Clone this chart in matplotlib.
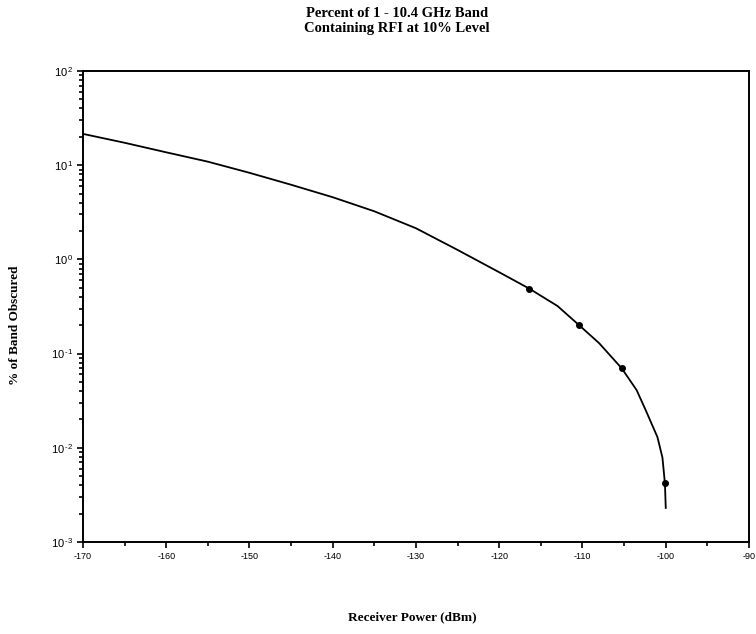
import matplotlib
matplotlib.use("Agg")
import matplotlib.pyplot as plt
from matplotlib.ticker import LogLocator, FixedLocator, NullFormatter

plt.rcParams['axes.unicode_minus'] = False
plt.rcParams['mathtext.fontset'] = 'custom'
plt.rcParams['mathtext.rm'] = 'Liberation Sans'
plt.rcParams['mathtext.it'] = 'Liberation Sans'
plt.rcParams['font.family'] = ['Liberation Sans', 'DejaVu Sans']

# Curve
curve_x = [-170, -165, -160, -155, -150, -145, -140, -135, -130,
           -125, -120, -116.4, -113, -110.4, -108, -105.3, -103.5,
           -102.4, -101, -100.4, -100.1, -100.0]
curve_y = [21.5, 17.3, 13.7, 10.9, 8.3, 6.2, 4.57, 3.24, 2.14,
           1.26, 0.73, 0.49, 0.32, 0.20, 0.129, 0.070, 0.041,
           0.025, 0.013, 0.0079, 0.0042, 0.0023]

# Marked points
pts_x = [-116.4, -110.4, -105.3, -100.1]
pts_y = [0.49, 0.20, 0.070, 0.0042]

xticks = [-170, -160, -150, -140, -130, -120, -110, -100, -90]
yticks = [1e-3, 1e-2, 1e-1, 1e0, 1e1, 1e2]
ytick_labels = [r'$10^{\,\text{-}3}$', r'$10^{\,\text{-}2}$', r'$10^{\,\text{-}1}$',
                r'$10^{\,0}$', r'$10^{\,1}$', r'$10^{\,2}$']

fig = plt.figure(figsize=(7.56, 6.34), dpi=100)
ax = fig.add_axes([83/756, 1-542/634, (749-83)/756, (542-71)/634])

ax.plot(curve_x, curve_y, color='black', lw=1.3)
ax.plot(pts_x, pts_y, 'o', color='black', ms=4)

ax.set_yscale('log')
ax.set_xlim(-170, -90)
ax.set_ylim(1e-3, 1e2)

ax.set_xticks(xticks)
ax.set_xticklabels([str(v) for v in xticks], fontsize=6.5)
ax.xaxis.set_minor_locator(FixedLocator(list(range(-165, -90, 10))))
ax.set_yticks(yticks)
ax.set_yticklabels(ytick_labels, fontsize=8)
ax.yaxis.set_minor_locator(LogLocator(base=10, subs=range(2, 10)))
ax.yaxis.set_minor_formatter(NullFormatter())

ax.tick_params(which='both', direction='out', top=False, right=False, width=1.2, color='black')
ax.tick_params(which='major', length=4, pad=3)
ax.tick_params(which='minor', length=3)

for s in ax.spines.values():
    s.set_linewidth(1.4)

fig.text(397/756, 1-21/634, 'Percent of 1 - 10.4 GHz Band\nContaining RFI at 10% Level',
         ha='center', va='center', family=['Liberation Serif'], fontweight='bold',
         fontsize=10.5, linespacing=1.15)
fig.text(412/756, 1-617/634, 'Receiver Power (dBm)', ha='center', va='center',
         family=['Liberation Serif'], fontweight='bold', fontsize=9.5)
fig.text(15/756, 1-325/634, '% of Band Obscured', ha='center', va='center', rotation=90,
         family=['Liberation Serif'], fontweight='bold', fontsize=9.5)

fig.savefig('out.png', dpi=100)
